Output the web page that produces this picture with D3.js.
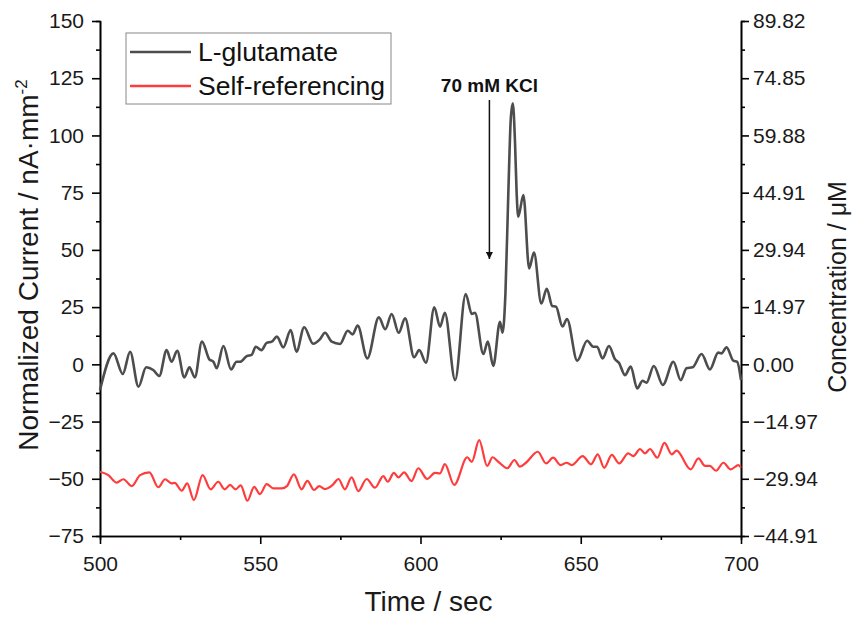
<!DOCTYPE html>
<html>
<head>
<meta charset="utf-8">
<script src="https://cdn.jsdelivr.net/npm/d3@7"></script>
<style>
  body { margin: 0; background: #fff; }
  svg { font-family: Arial, "Liberation Sans", sans-serif; }
</style>
</head>
<body>
<div id="canvas"></div>
<script>
// L-glutamate trace (time in sec, normalized current nA/mm2)
const gluTime = [500, 504.2, 507.1, 509.4, 512.0, 514.4, 516.6, 518.5, 520.8, 522.3, 524.1, 526.3, 527.9, 529.6,
  531.8, 534.1, 535.4, 536.4, 538.5, 540.9, 542.6, 543.7, 545.8, 547.3, 548.6, 550.4, 552.0, 553.6, 555.2,
  557.2, 559.5, 561.3, 563.7, 566.5, 568.6, 570.2, 572.3, 574.9, 577.3, 578.8, 580.4, 583.4, 587.0, 589.0,
  591.0, 593.2, 595.2, 598.0, 599.6, 601.7, 604.3, 606.1, 607.6, 610.8, 614.1, 616.0, 617.0, 619.6, 621.0,
  622.7, 624.8, 625.6, 626.5, 627.4, 628.2, 628.8, 629.5, 630.0, 630.5, 632.1, 633.9, 635.4, 637.7, 639.4,
  641.1, 642.3, 644.3, 645.7, 648.9, 652.0, 653.9, 655.1, 656.8, 658.8, 660.7, 661.9, 663.8, 665.6, 667.6,
  669.3, 670.5, 672.8, 675.6, 678.9, 681.2, 683.0, 684.9, 687.7, 690.3, 692.9, 693.9, 695.5, 697.6, 698.8, 700];
const gluValues = [-11.2, 4.8, -4.2, 5.5, -9.8, -1.3, -2.5, -5.1, 6.2, 1.1, 5.9, -5.7, -1.3, -5.7,
  9.9, 2.2, 1.1, -1.7, 8.0, -2.2, 1.1, 1.1, 3.6, 4.1, 7.7, 6.2, 9.4, 9.9, 12.1,
  7.4, 15.0, 5.5, 16.2, 9.0, 10.9, 13.8, 9.9, 8.9, 14.7, 13.1, 16.9, 2.6, 20.5, 15.3,
  22.0, 13.8, 20.1, 3.1, 6.2, 0.7, 24.9, 16.4, 22.5, -6.9, 30.7, 22.0, 22.5, 4.5, 9.9,
  -0.7, 18.6, 13.8, 31, 74.7, 108, 114, 96.5, 74.7, 64.5, 74, 41.9, 48.8, 26.6, 33.0,
  25.5, 25.2, 16.5, 19.8, 1.6, 10.3, 7.7, 7.7, 2.6, 8.0, 2.2, 0.7, -4.7, -1.0, -10.5,
  -7.2, -8.0, -0.7, -9.0, 1.1, -6.9, -1.7, -1.3, 4.5, -2.2, 5.1, 4.8, 7.4, 1.6, 1.1, -6.9];

// Self-referencing trace
const refTime = [500, 502.6, 505.2, 507.3, 509.9, 512.5, 515.4, 518.2, 520.3, 522.3, 523.3, 525.5, 527.2, 529.3,
  532.0, 534.5, 536.9, 538.9, 540.6, 542.3, 543.9, 546.0, 548.1, 549.9, 552.0, 554.1, 556.7, 558.3, 560.5,
  562.9, 564.7, 566.8, 568.4, 570.2, 572.6, 574.4, 576.4, 578.5, 580.6, 583.2, 585.8, 588.4, 589.8, 591.7,
  593.1, 594.9, 597.2, 599.3, 602.1, 604.5, 606.1, 607.6, 610.5, 614.6, 616.0, 618.3, 620.8, 622.5, 624.3,
  627.1, 629.3, 631.0, 632.9, 636.6, 639.2, 641.4, 643.7, 645.6, 647.2, 650.6, 653.2, 655.3, 657.3, 659.7,
  662.0, 664.8, 666.4, 668.5, 670.0, 671.6, 673.9, 676.1, 678.4, 679.9, 684.3, 686.7, 688.8, 690.3, 692.2,
  694.5, 696.8, 699.2, 700];
const refValues = [-46.9, -48.4, -51.7, -50.2, -53.2, -48.4, -47.2, -53.7, -50.2, -52.0, -51.8, -55.2, -52.0, -59.3,
  -48.4, -54.6, -51.3, -54.6, -52.7, -54.6, -52.9, -59.6, -53.5, -56.7, -52.3, -54.2, -54.2, -53.2, -48.1,
  -54.6, -50.9, -54.9, -53.2, -54.5, -52.7, -50.1, -54.6, -49.4, -55.4, -50.1, -53.9, -48.8, -51.3, -47.4,
  -49.4, -47.2, -51.0, -45.4, -50.1, -47.4, -47.6, -43.6, -52.7, -40.6, -42.6, -33.1, -44.4, -40.6, -42.6,
  -45.4, -41.8, -44.7, -43.0, -38.2, -43.3, -40.8, -44.0, -43.0, -44.0, -40.1, -43.7, -39.3, -45.2, -39.6,
  -43.3, -38.9, -40.1, -37.0, -38.9, -37.0, -40.8, -34.3, -39.3, -37.7, -45.9, -41.1, -44.4, -44.4, -46.5,
  -43.0, -45.9, -44.0, -45.2];

const xTicks = [500, 550, 600, 650, 700];
const leftTicks = [-75, -50, -25, 0, 25, 50, 75, 100, 125, 150];
const rightTicks = [-44.91, -29.94, -14.97, 0, 14.97, 29.94, 44.91, 59.88, 74.85, 89.82];
const seriesNames = ["L-glutamate", "Self-referencing"];
const seriesColors = ["#4d4d4d", "#ff3c3c"];

const width = 853;
const height = 617;
const margin = { top: 21, right: 112, bottom: 81, left: 100 };
const iwidth = width - margin.left - margin.right;
const iheight = height - margin.top - margin.bottom;

const svg = d3.select("#canvas").append("svg")
  .attr("width", width)
  .attr("height", height);

const g = svg.append("g")
  .attr("transform", `translate(${margin.left}, ${margin.top})`);

const x = d3.scaleLinear().domain([500, 700]).range([0, iwidth]);
const y = d3.scaleLinear().domain([-75, 150]).range([iheight, 0]);
const yR = d3.scaleLinear().domain([-44.91, 89.82]).range([iheight, 0]);

// minor ticks
const xMinor = d3.range(525, 700, 50);
const yMinor = d3.range(-62.5, 150, 25);
const yRMinor = yMinor.map(v => v * 89.82 / 150);

function styleAxis(sel, fontSize) {
  sel.selectAll("path").attr("stroke", "#000").attr("stroke-width", 1.6);
  sel.selectAll("line").attr("stroke", "#000").attr("stroke-width", 1.6);
  sel.selectAll("text").attr("font-size", fontSize).attr("fill", "#1a1a1a")
    .attr("font-family", "Arial, 'Liberation Sans', sans-serif");
}

g.append("g").attr("transform", `translate(0, ${iheight})`)
  .call(d3.axisBottom(x).tickValues(xMinor).tickSize(4).tickFormat(""))
  .call(s => styleAxis(s, 21));
g.append("g").attr("transform", `translate(0, ${iheight})`)
  .call(d3.axisBottom(x).tickValues(xTicks).tickSize(8).tickSizeOuter(0).tickPadding(12))
  .call(s => styleAxis(s, 21));

g.append("g")
  .call(d3.axisLeft(y).tickValues(yMinor).tickSize(4).tickFormat(""))
  .call(s => styleAxis(s, 21));
g.append("g")
  .call(d3.axisLeft(y).tickValues(leftTicks).tickSize(8).tickSizeOuter(0).tickPadding(8))
  .call(s => styleAxis(s, 21));

g.append("g").attr("transform", `translate(${iwidth}, 0)`)
  .call(d3.axisRight(yR).tickValues(yRMinor).tickSize(4).tickFormat(""))
  .call(s => styleAxis(s, 21));
g.append("g").attr("transform", `translate(${iwidth}, 0)`)
  .call(d3.axisRight(yR).tickValues(rightTicks).tickSize(8).tickSizeOuter(0).tickPadding(4)
    .tickFormat(d3.format(".2f")))
  .call(s => styleAxis(s, 21));

// lines
const line = d3.line()
  .x(d => x(d[0]))
  .y(d => y(d[1]))
  .curve(d3.curveMonotoneX);

const refData = refTime.map((t, i) => [t, refValues[i]]);
const gluData = gluTime.map((t, i) => [t, gluValues[i]]);

g.append("path").datum(refData)
  .attr("d", line)
  .attr("fill", "none")
  .attr("stroke", seriesColors[1])
  .attr("stroke-width", 2.2);

g.append("path").datum(gluData)
  .attr("d", line)
  .attr("fill", "none")
  .attr("stroke", seriesColors[0])
  .attr("stroke-width", 2.6);

// axis titles
svg.append("text")
  .attr("x", margin.left + iwidth / 2 + 8)
  .attr("y", 611)
  .attr("text-anchor", "middle")
  .attr("font-size", 28)
  .attr("fill", "#1a1a1a")
  .text("Time / sec");

const yTitle = svg.append("text")
  .attr("transform", `translate(38, 265) rotate(-90)`)
  .attr("text-anchor", "middle")
  .attr("font-size", 28)
  .attr("fill", "#1a1a1a");
yTitle.append("tspan").text("Normalized Current / nA\u00b7mm");
yTitle.append("tspan").attr("dy", -11).attr("font-size", 17).text("-2");

svg.append("text")
  .attr("transform", `translate(846, 287) rotate(-90)`)
  .attr("text-anchor", "middle")
  .attr("font-size", 25)
  .attr("fill", "#1a1a1a")
  .text("Concentration / \u03bcM");

// legend
const legend = svg.append("g").attr("transform", "translate(126, 33)");
legend.append("rect")
  .attr("width", 265).attr("height", 71)
  .attr("fill", "#fff").attr("stroke", "#888").attr("stroke-width", 1);
seriesNames.forEach((name, i) => {
  const ly = 19 + i * 34;
  legend.append("line")
    .attr("x1", 4).attr("x2", 65).attr("y1", ly).attr("y2", ly)
    .attr("stroke", seriesColors[i]).attr("stroke-width", 2.5);
  legend.append("text")
    .attr("x", 72).attr("y", ly + 9)
    .attr("font-size", 26.5).attr("fill", "#111")
    .text(name);
});

// annotation
const kclTime = 621.5;
svg.append("text")
  .attr("x", margin.left + x(kclTime))
  .attr("y", 92)
  .attr("text-anchor", "middle")
  .attr("font-size", 19)
  .attr("font-weight", "bold")
  .attr("fill", "#111")
  .text("70 mM KCl");
svg.append("defs").append("marker")
  .attr("id", "arrow")
  .attr("viewBox", "0 0 10 10")
  .attr("refX", 10).attr("refY", 5)
  .attr("markerWidth", 7).attr("markerHeight", 7)
  .attr("markerUnits", "userSpaceOnUse")
  .attr("orient", "auto")
  .append("path").attr("d", "M0,0L10,5L0,10Z").attr("fill", "#111");
svg.append("line")
  .attr("x1", margin.left + x(kclTime)).attr("x2", margin.left + x(kclTime))
  .attr("y1", 100).attr("y2", 259)
  .attr("stroke", "#111").attr("stroke-width", 1.5)
  .attr("marker-end", "url(#arrow)");
</script>
</body>
</html>
